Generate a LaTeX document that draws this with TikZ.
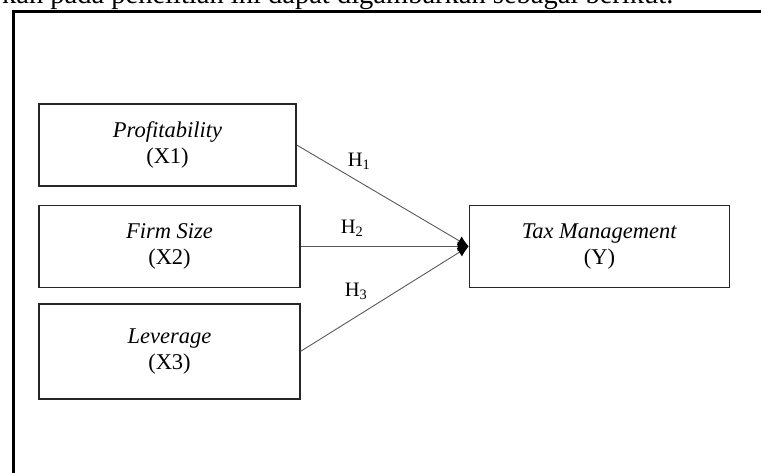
\documentclass[tikz,border=0pt]{standalone}
\usepackage{fontspec}
\setmainfont{Liberation Serif}
\newfontfamily\boxfont{Liberation Serif}
\usepackage{tikz}
\usetikzlibrary{arrows.meta, positioning}

\tikzset{
  var/.style={draw=black!85, line width=1.4pt, inner sep=0pt, align=center,
    minimum height=82pt, font=\boxfont\fontsize{22.5}{26}\selectfont},
  path/.style={draw=black!65, line width=0.9pt, -{Latex[length=11pt,width=10pt,black]}},
  hyp/.style={font=\fontsize{20.5}{24}\selectfont, inner sep=0pt}
}

\begin{document}
\begin{tikzpicture}[x=1pt, y=1pt]
    \useasboundingbox (0,0) rectangle (761,-472);
    \clip (0,0) rectangle (761,-472);
    % text above the frame
    \node [anchor=base west, inner sep=0pt, font=\boxfont\fontsize{28.5}{32}\selectfont] (intro) at (2,-3.5) {kan pada penelitian ini dapat digambarkan sebagai berikut.};
    % frame
    \draw [line width=3pt] (13,-480) -- (13,-11.3) -- (770,-11.3);
    % variables
    \node [var, minimum width=257pt] (X1) at (167.5,-145) {\textit{Profitability}\\(X1)};
    \node [var, minimum width=261pt, below=18pt of X1.south west, anchor=north west] (X2) {\textit{Firm Size}\\(X2)};
    \node [var, minimum width=261pt, minimum height=95pt, below=15pt of X2] (X3) {\textit{Leverage}\\(X3)};
    \node [var, minimum width=260pt, right=168pt of X2] (Y) {\textit{Tax Management}\\(Y)};
    % hypotheses
    \draw [path] (X1.east) -- (Y.west);
    \draw [path] (X2.east) -- (Y.west);
    \draw [path] (X3.east) -- (Y.west);
    \node [hyp] (H1) at (359,-161) {H\textsubscript{1}};
    \node [hyp] (H2) at (352,-228) {H\textsubscript{2}};
    \node [hyp] (H3) at (356,-291) {H\textsubscript{3}};
  \end{tikzpicture}
\end{document}
